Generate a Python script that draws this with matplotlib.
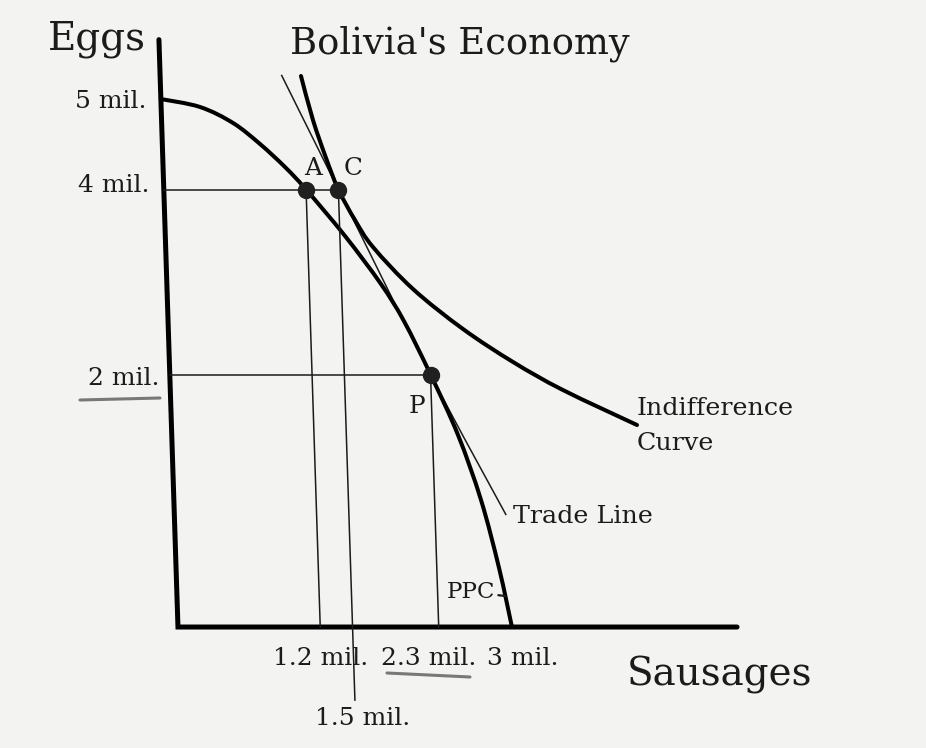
import numpy as np
import matplotlib
matplotlib.use("Agg")
import matplotlib.pyplot as plt
from matplotlib.transforms import Affine2D
from matplotlib.lines import Line2D
from matplotlib.path import Path
from matplotlib.patches import PathPatch

# values (millions of sausages / eggs)
ppc_x = [-0.121, 0.24, 0.542, 0.786, 1.011, 1.2, 1.548, 1.867, 2.069, 2.3, 2.537, 2.731, 2.878, 2.98]
ppc_y = [4.978, 4.892, 4.719, 4.492, 4.243, 4.0, 3.497, 2.978, 2.578, 2.0, 1.346, 0.643, -0.092, -0.73]

ic_x = [1.187, 1.285, 1.395, 1.5, 1.645, 1.804, 2.163, 2.615, 3.07, 3.525, 4.202]
ic_y = [5.227, 4.751, 4.34, 4.0, 3.67, 3.378, 2.924, 2.492, 2.135, 1.832, 1.454]

trade_x = [1.005, 1.5, 2.3, 2.96]
trade_y = [5.24, 4.0, 2.0, 0.48]

pt_names = ["A", "C", "P"]
pt_x = [1.2, 1.5, 2.3]
pt_y = [4.0, 4.0, 2.0]

ytick_vals = [5, 4, 2]
ytick_text = ["5 mil.", "4 mil.", "2 mil."]
xtick_vals = [1.2, 2.3, 3.0, 1.5]
xtick_text = ["1.2 mil.", "2.3 mil.", "3 mil.", "1.5 mil."]

# the sketch is not to scale: axes meet a little below/left of zero
x0, y0 = -0.121, -0.73
y_top, x_end = 5.62, 5.07

W, H = 926, 748
bg = "#f3f3f1"
ink = "#1b1b1b"
plt.rcParams['font.family'] = ['DejaVu Serif']

fig = plt.figure(figsize=(W / 100, H / 100), dpi=100, facecolor=bg)
ax = fig.add_axes([0, 0, 1, 1])
ax.set_facecolor(bg)
ax.axis('off')
ax.set_xlim((0 - 191) / 107.7, (W - 191) / 107.7)
ax.set_ylim((559.5 - H) / 92.5, 559.5 / 92.5)

# scanned page is slightly sheared (verticals lean left going up)
base = ax.transData.transform((0, y0))[1]
shear = Affine2D().translate(0, -base).skew(np.arctan(-0.0324), 0).translate(0, base)
tr = ax.transData + shear


def smooth(xs, ys):
    # hand-drawn look: bezier segments through the read points
    p = np.column_stack([xs, ys])
    verts, codes = [p[0]], [Path.MOVETO]
    for i in range(len(p) - 1):
        a = p[i - 1] if i > 0 else p[i]
        d = p[i + 2] if i + 2 < len(p) else p[i + 1]
        verts += [p[i] + (p[i + 1] - a) / 6, p[i + 1] - (d - p[i]) / 6, p[i + 1]]
        codes += [Path.CURVE4] * 3
    return Path(verts, codes)


# axes
ax.plot([x0, x0, x_end], [y_top, y0, y0], color='k', lw=3.6, transform=tr,
        solid_joinstyle='miter', solid_capstyle='round')

# guide lines
thin = dict(color=ink, lw=1.1, transform=tr)
ax.plot([x0, pt_x[1]], [4, 4], **thin)
ax.plot([x0, pt_x[2]], [2, 2], **thin)
ax.plot([1.2, 1.2], [y0, 4], **thin)
ax.plot([1.5, 1.5], [-1.52, 4], **thin)
ax.plot([2.3, 2.3], [y0, 2], **thin)

# curves
ax.add_patch(PathPatch(smooth(trade_x, trade_y), fill=False, ec=ink, lw=1.1, transform=tr))
for xs, ys in [(ppc_x, ppc_y), (ic_x, ic_y)]:
    ax.add_patch(PathPatch(smooth(xs, ys), fill=False, ec='k', lw=2.9,
                           capstyle='round', joinstyle='round', transform=tr))
ax.plot(pt_x, pt_y, 'o', ms=11.5, color='#202020', transform=tr, zorder=5)

# point letters
pt_off = [(7, 14.5), (15, 14.5), (-13.5, -38.5)]
for name, x, y, off in zip(pt_names, pt_x, pt_y, pt_off):
    ax.annotate(name, (x, y), xycoords=tr, xytext=off, textcoords='offset pixels',
                ha='center', va='baseline', fontsize=17.8, color=ink)

# tick labels
yoff = [(-14, -11), (-14, -2.5), (-10, -10.5)]
for v, t, off in zip(ytick_vals, ytick_text, yoff):
    ax.annotate(t, (x0, v), xycoords=tr, xytext=off, textcoords='offset pixels',
                ha='right', va='baseline', fontsize=18, color=ink)
xoff = [(0, -38), (-10, -38), (9, -38), (10.5, -98)]
for v, t, off in zip(xtick_vals, xtick_text, xoff):
    ax.annotate(t, (v, y0), xycoords=tr, xytext=off, textcoords='offset pixels',
                ha='center', va='baseline', fontsize=18, color=ink)

# curve labels
ax.annotate("Indifference", (ic_x[-1], ic_y[-1]), xycoords=tr, xytext=(0, 10),
            textcoords='offset pixels', ha='left', va='baseline', fontsize=18.3, color=ink)
ax.annotate("Curve", (ic_x[-1], ic_y[-1]), xycoords=tr, xytext=(0, -25),
            textcoords='offset pixels', ha='left', va='baseline', fontsize=18.3, color=ink)
ax.annotate("Trade Line", (trade_x[-1], trade_y[-1]), xycoords=tr, xytext=(7, -8),
            textcoords='offset pixels', ha='left', va='baseline', fontsize=18.3, color=ink)
ax.annotate("PPC", (2.93, -0.395), xycoords=tr, xytext=(-10, 4),
            textcoords='offset pixels', ha='right', va='center', fontsize=16.5, color=ink,
            arrowprops=dict(arrowstyle='-', lw=1.6, color=ink, shrinkA=0, shrinkB=0))

# titles
def ftext(px, py, s, **kw):
    fig.text(px / W, 1 - py / H, s, color=ink, va='baseline', **kw)

ftext(460, 53, "Bolivia's Economy", ha='center', fontsize=26.5)
ftext(97, 50, "Eggs", ha='center', fontsize=28)
ftext(720, 685, "Sausages", ha='center', fontsize=28)

# pen underlines on the scan
for (xa, ya), (xb, yb) in [((80, 400), (160, 398)), ((387, 673), (470, 677))]:
    fig.add_artist(Line2D([xa / W, xb / W], [1 - ya / H, 1 - yb / H],
                          color='#5a5a5a', lw=2.2, alpha=0.8, solid_capstyle='round'))

fig.savefig("out.png", dpi=100, facecolor=bg)
